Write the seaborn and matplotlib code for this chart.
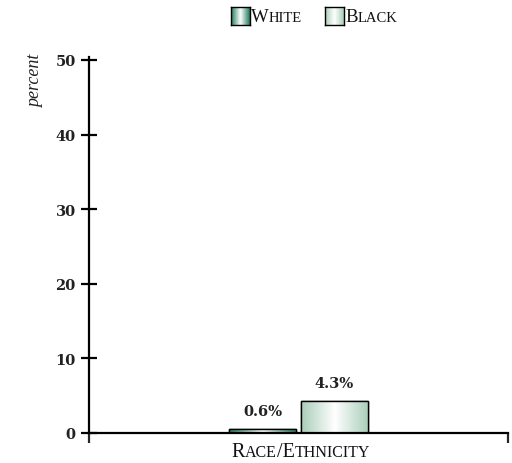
import numpy as np
import pandas as pd
import matplotlib
matplotlib.use("Agg")
import matplotlib.pyplot as plt
from matplotlib.patches import Rectangle
from matplotlib.offsetbox import TextArea, HPacker, AnnotationBbox
from matplotlib.colors import LinearSegmentedColormap
import seaborn as sns

# ---- data ----
group = ["Race/Ethnicity"]
races = ["White", "Black"]
values = [0.6, 4.3]
value_labels = ["0.6%", "4.3%"]
y_ticks = [0, 10, 20, 30, 40, 50]

edge_colors = {"White": "#1d7a58", "Black": "#a9cdb9"}

sns.set_theme(style="white")
SERIF = ["Liberation Serif", "DejaVu Serif"]
NUM_FONT = ["DejaVu Serif"]
plt.rcParams["font.family"] = SERIF

W, H = 512, 464
fig = plt.figure(figsize=(W / 100, H / 100), dpi=100)
ax = fig.add_axes([89 / W, 30 / H, (508 - 89) / W, (434 - 58) / H])

df = pd.DataFrame({"group": group * len(races), "race": races, "value": values})
sns.barplot(data=df, x="group", y="value", hue="race", hue_order=races,
            palette=[edge_colors[r] for r in races], width=0.344, gap=0.07,
            edgecolor="black", linewidth=1.0, legend=False, ax=ax)

ax.set_xlim(-0.5, 0.5)
ax.set_ylim(0, 50.4)


def gradient_cmap(edge):
    return LinearSegmentedColormap.from_list("g", [edge, "#ffffff", edge])


# horizontal gradient fill clipped to each bar
grad = np.linspace(0, 1, 256).reshape(1, -1)
for patch, race in zip(ax.patches, races):
    x0, y0 = patch.get_x(), patch.get_y()
    w, h = patch.get_width(), patch.get_height()
    im = ax.imshow(grad, cmap=gradient_cmap(edge_colors[race]), aspect="auto",
                   extent=(x0, x0 + w, y0, y0 + h), interpolation="bicubic",
                   zorder=patch.get_zorder() + 0.1)
    im.set_clip_path(patch)
    outline = Rectangle((x0, y0), w, h, fill=False, edgecolor="black",
                        linewidth=1.0, zorder=patch.get_zorder() + 0.2)
    ax.add_patch(outline)
    ax.text(x0 + w / 2, y0 + h + 1.4, value_labels[races.index(race)],
            ha="center", va="bottom", fontsize=10.5, fontweight="bold",
            family=NUM_FONT, color="#222222")
ax.set_xlim(-0.5, 0.5)
ax.set_ylim(0, 50.4)

# axes styling
sns.despine(ax=ax, top=True, right=True)
for s in ("left", "bottom"):
    ax.spines[s].set_linewidth(1.6)
    ax.spines[s].set_color("black")
ax.set_yticks(y_ticks)
ax.set_yticklabels([str(t) for t in y_ticks], fontsize=10.5, fontweight="bold",
                   family=NUM_FONT, color="#222222")
ax.tick_params(axis="y", direction="inout", length=11, width=1.6, pad=4,
               left=True, colors="black", labelcolor="#222222")
ax.set_xticks([-0.5, 0.5])
ax.set_xticklabels(["", ""])
ax.tick_params(axis="x", direction="out", length=7, width=1.6, bottom=True)
ax.set_xlabel("")
ax.set_ylabel("")


def small_caps(text, big, small, color="#111111"):
    runs, cur, cur_up = [], "", None
    for ch in text:
        up = not ch.islower()
        if cur and up != cur_up:
            runs.append((cur, cur_up))
            cur = ""
        cur += ch
        cur_up = up
    if cur:
        runs.append((cur, cur_up))
    boxes = [TextArea(r.upper(), textprops=dict(size=big if up else small,
                                                family=SERIF, color=color))
             for r, up in runs]
    return HPacker(children=boxes, align="baseline", pad=0, sep=0)


def place(box, x, y, align=(0.0, 0.5)):
    ab = AnnotationBbox(box, (x / W, 1 - y / H), xycoords="figure fraction",
                        frameon=False, box_alignment=align, pad=0)
    fig.add_artist(ab)


# category label
place(small_caps(group[0], 14.5, 11.5), 301, 453, align=(0.5, 0.5))

# y-axis title
fig.text(36 / W, 1 - 81 / H, "percent", rotation=90, style="italic",
         fontsize=13, ha="center", va="center", family=SERIF, color="#222222")

# legend
legend_x = {"White": 231, "Black": 325}
for race in races:
    lx = legend_x[race]
    lax = fig.add_axes([lx / W, 1 - 26 / H, 19 / W, 18 / H])
    lax.imshow(grad, cmap=gradient_cmap(edge_colors[race]), aspect="auto",
               extent=(0, 1, 0, 1), interpolation="bicubic")
    lax.set_xticks([])
    lax.set_yticks([])
    for s in lax.spines.values():
        s.set_linewidth(1.0)
        s.set_color("black")
        s.set_visible(True)
    place(small_caps(race, 13.5, 10.5), lx + 20, 17, align=(0.0, 0.5))

fig.savefig("out.png", dpi=100)
